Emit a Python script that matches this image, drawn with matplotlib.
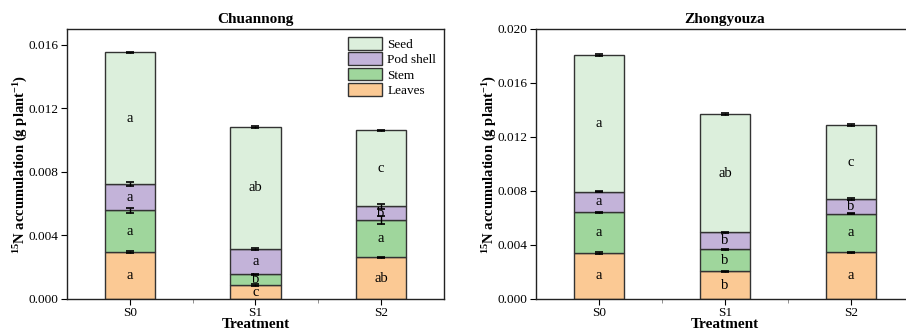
import matplotlib.pyplot as plt
import numpy as np

plt.rcParams['font.family'] = ['Liberation Serif', 'DejaVu Serif']
plt.rcParams['mathtext.default'] = 'regular'

treatments = ["S0", "S1", "S2"]
parts = ["Leaves", "Stem", "Pod shell", "Seed"]
colors = ["#fbc994", "#9fd69c", "#c3b3d9", "#dcefdc"]

# Chuannong, per-organ 15N accumulation (g/plant)
cn_leaves = [0.00294, 0.00086, 0.00262]
cn_stem = [0.00264, 0.00069, 0.00237]
cn_pod = [0.00165, 0.00160, 0.00084]
cn_seed = [0.00829, 0.00769, 0.00480]
cn_err_leaves = [0.00006, 0.00006, 0.00004]
cn_err_stem = [0.00017, 0.00004, 0.00025]
cn_err_pod = [0.00012, 0.00004, 0.00017]
cn_err_seed = [0.00005, 0.00005, 0.00003]
cn_letters = [["a", "c", "ab"], ["a", "b", "a"], ["a", "a", "b"], ["a", "ab", "c"]]

# Zhongyouza
zy_leaves = [0.00341, 0.00205, 0.00346]
zy_stem = [0.00303, 0.00163, 0.00286]
zy_pod = [0.00149, 0.00126, 0.00109]
zy_seed = [0.01014, 0.00876, 0.00545]
zy_err_leaves = [0.00005, 0.00005, 0.00004]
zy_err_stem = [0.00004, 0.00005, 0.00004]
zy_err_pod = [0.00004, 0.00005, 0.00005]
zy_err_seed = [0.00005, 0.00005, 0.00007]
zy_letters = [["a", "b", "a"], ["a", "b", "a"], ["a", "b", "b"], ["a", "ab", "c"]]


def stacked(ax, values, errs, letters, title, ymax, show_legend):
    x = np.arange(len(treatments))
    bottom = np.zeros(len(treatments))
    handles = []
    for vals, err, col, name, lab in zip(values, errs, colors, parts, letters):
        vals = np.array(vals)
        h = ax.bar(x, vals, 0.4, bottom=bottom, color=col, edgecolor="#333333",
                   linewidth=1, label=name, zorder=2)
        handles.append(h)
        ax.errorbar(x, bottom + vals, yerr=err, fmt="none", ecolor="black",
                    elinewidth=1, capsize=3, capthick=1.2, zorder=3)
        for xi, b, v, t in zip(x, bottom, vals, lab):
            ax.text(xi, b + v / 2, t, ha="center", va="center", fontsize=10.5, zorder=4)
        bottom = bottom + vals
    ax.set_xlim(-0.5, 2.5)
    ax.set_ylim(0, ymax)
    ax.set_xticks(x)
    ax.set_xticklabels(treatments)
    ax.set_xticks([0.5, 1.5], minor=True)
    ax.tick_params(axis="x", which="minor", length=3, color="gray")
    ax.tick_params(axis="both", which="major", length=4, labelsize=9.5, pad=2)
    ax.set_xlabel("Treatment", fontsize=11, fontweight="bold", labelpad=-1)
    ax.set_ylabel(r"$^{15}$N accumulation (g plant$^{-1}$)",
                  fontsize=10.5, fontweight="bold", labelpad=-1)
    ax.set_title(title, fontsize=11, fontweight="bold", pad=4)
    for s in ax.spines.values():
        s.set_linewidth(1)
        s.set_color("#222222")
    if show_legend:
        ax.legend(handles[::-1], parts[::-1], loc="upper right", frameon=False,
                  fontsize=9.5, handlelength=2.6, handleheight=1.1,
                  labelspacing=0.12, handletextpad=0.4, borderaxespad=0.2)


fig = plt.figure(figsize=(9.06, 3.32), dpi=100)
ax1 = fig.add_axes([0.074, 0.0994, 0.416, 0.8133])
ax2 = fig.add_axes([0.5916, 0.0994, 0.417, 0.8133])

stacked(ax1, [cn_leaves, cn_stem, cn_pod, cn_seed],
        [cn_err_leaves, cn_err_stem, cn_err_pod, cn_err_seed],
        cn_letters, "Chuannong", 0.017, True)
ax1.set_yticks([0, 0.004, 0.008, 0.012, 0.016])
ax1.set_yticklabels(["0.000", "0.004", "0.008", "0.012", "0.016"])

stacked(ax2, [zy_leaves, zy_stem, zy_pod, zy_seed],
        [zy_err_leaves, zy_err_stem, zy_err_pod, zy_err_seed],
        zy_letters, "Zhongyouza", 0.020, False)
ax2.set_yticks([0, 0.004, 0.008, 0.012, 0.016, 0.020])
ax2.set_yticklabels(["0.000", "0.004", "0.008", "0.012", "0.016", "0.020"])

fig.savefig("out.png", dpi=100)
